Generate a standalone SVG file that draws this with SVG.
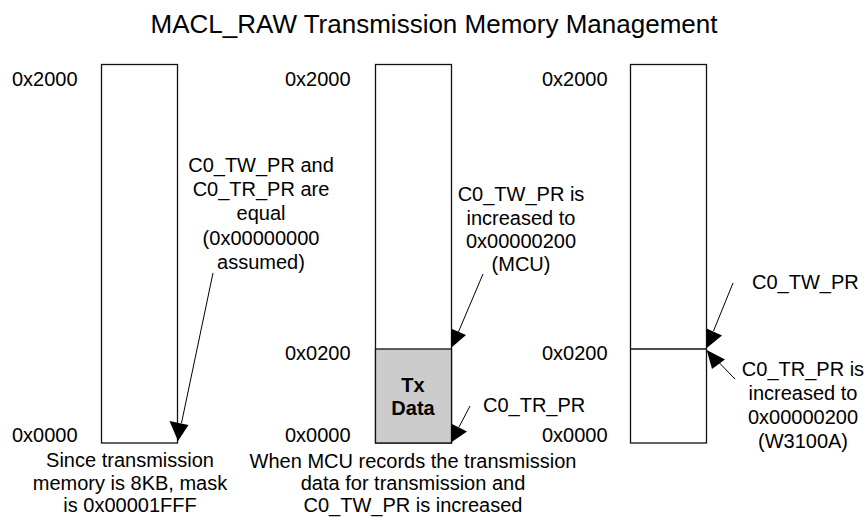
<svg xmlns="http://www.w3.org/2000/svg" width="866" height="517" viewBox="0 0 866 517">
<defs>
<style>
text{font-family:"Liberation Sans",Arial,sans-serif;font-size:20px;fill:#000}
.title{font-size:26px;text-anchor:middle}
.c{text-anchor:middle}
.b{font-weight:bold;text-anchor:middle}
.box{fill:#fff;stroke:#111;stroke-width:1.3}
.conn line{stroke:#000;stroke-width:1}
.conn polygon{fill:#000}
</style>
</defs>
<rect width="866" height="517" fill="#fff"/>
<text class="title" x="434" y="33">MACL_RAW Transmission Memory Management</text>

<g id="mem1">
<rect class="box" x="101.5" y="64.5" width="76" height="378.5"/>
<text x="12" y="86">0x2000</text>
<text x="12" y="442">0x0000</text>
<text class="c" x="130" y="467">Since transmission</text>
<text class="c" x="130" y="489.5">memory is 8KB, mask</text>
<text class="c" x="130" y="512">is 0x00001FFF</text>
</g>
<g id="note1">
<text class="c" x="261" y="172">C0_TW_PR and</text>
<text class="c" x="261" y="196">C0_TR_PR are</text>
<text class="c" x="261" y="220">equal</text>
<text class="c" x="261" y="245">(0x00000000</text>
<text class="c" x="261" y="269">assumed)</text>
</g>

<g id="mem2">
<rect class="box" x="375.5" y="64.5" width="76" height="378.5"/>
<rect x="375.5" y="349" width="76" height="94" fill="#cccccc" stroke="#111" stroke-width="1.3"/>
<text class="b" x="413" y="392">Tx</text>
<text class="b" x="413" y="415">Data</text>
<text x="285" y="86">0x2000</text>
<text x="285" y="360">0x0200</text>
<text x="285" y="442">0x0000</text>
<text class="c" x="413" y="467.5">When MCU records the transmission</text>
<text class="c" x="413" y="490">data for transmission and</text>
<text class="c" x="413" y="512">C0_TW_PR is increased</text>
</g>
<g id="note2a">
<text class="c" x="521" y="201">C0_TW_PR is</text>
<text class="c" x="521" y="225">increased to</text>
<text class="c" x="521" y="248">0x00000200</text>
<text class="c" x="521" y="271">(MCU)</text>
</g>
<g id="note2b">
<text x="483" y="412">C0_TR_PR</text>
</g>

<g id="mem3">
<rect class="box" x="630.5" y="64.5" width="76" height="378.5"/>
<line x1="630.5" y1="349" x2="706.5" y2="349" stroke="#111" stroke-width="1.3"/>
<text x="542" y="86">0x2000</text>
<text x="542" y="360">0x0200</text>
<text x="542" y="442">0x0000</text>
</g>
<g id="note3a">
<text x="752" y="289">C0_TW_PR</text>
</g>
<g id="note3b">
<text class="c" x="803" y="376">C0_TR_PR is</text>
<text class="c" x="803" y="400">increased to</text>
<text class="c" x="803" y="424">0x00000200</text>
<text class="c" x="803" y="447.6">(W3100A)</text>
</g>

<g id="connectors" class="conn">
<line x1="213" y1="273" x2="181.5" y2="423"/>
<polygon points="178,441 169.5,421 188.5,425"/>
<line x1="483" y1="274" x2="457.8" y2="333.4"/>
<polygon points="451,348 451,328.5 466,335"/>
<line x1="470" y1="406" x2="459" y2="427"/>
<polygon points="451,442.5 451,423.5 467,431.5"/>
<line x1="733" y1="283" x2="713.5" y2="331"/>
<polygon points="706.7,348 706.5,328.5 722,335.5"/>
<line x1="735" y1="379" x2="719" y2="362.5"/>
<polygon points="706.7,350 725,359.5 712,369"/>
</g>
</svg>
